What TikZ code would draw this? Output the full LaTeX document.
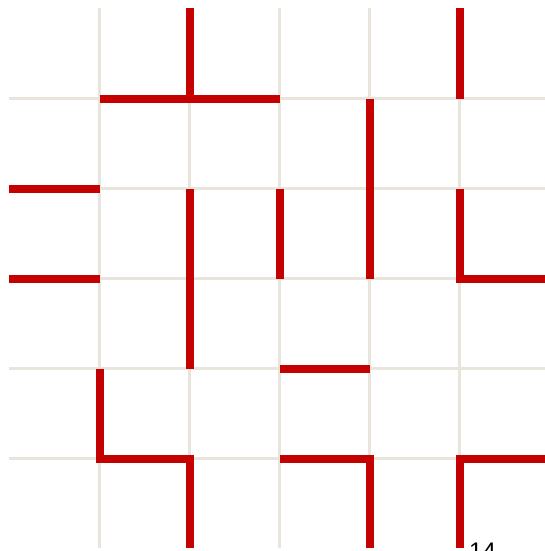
\documentclass[tikz,border=0pt]{standalone}
\usepackage{fontspec}
\setmainfont{Liberation Sans}
\begin{document}
\begin{tikzpicture}[x=1pt,y=-1pt,
  gridline/.style={draw={rgb,255:red,234;green,229;blue,220},line width=2.5pt},
  wall/.style={draw={rgb,255:red,196;green,0;blue,0},line width=8pt,line cap=butt,line join=miter}]
\clip (0,0) rectangle (545,551);
\fill[white] (0,0) rectangle (545,551);
% grid
\foreach \k in {99.5,189.5,279.5,369.5,459.5} {
  \draw[gridline] (\k,8) -- (\k,548);
}
\foreach \k in {98.5,188.5,278.5,368.5,458.5} {
  \draw[gridline] (9,\k) -- (550,\k);
}
% walls
\draw[wall] (189.5,8) -- (189.5,98.5);
\draw[wall] (99.5,98.5) -- (279.5,98.5);
\draw[wall] (459.5,8) -- (459.5,98.5);
\draw[wall] (369.5,98.5) -- (369.5,278.5);
\draw[wall] (9,188.5) -- (99.5,188.5);
\draw[wall] (189.5,188.5) -- (189.5,368.5);
\draw[wall] (279.5,188.5) -- (279.5,278.5);
\draw[wall] (459.5,188.5) -- (459.5,278.5) -- (550,278.5);
\draw[wall] (9,278.5) -- (99.5,278.5);
\draw[wall] (99.5,368.5) -- (99.5,458.5) -- (189.5,458.5) -- (189.5,548);
\draw[wall] (279.5,368.5) -- (369.5,368.5);
\draw[wall] (279.5,458.5) -- (369.5,458.5) -- (369.5,548);
\draw[wall] (459.5,548) -- (459.5,458.5) -- (550,458.5);
% label
\node[anchor=north west,inner sep=0pt,font=\fontsize{24}{28}\selectfont] (lbl) at (469,543) {14};
\end{tikzpicture}
\end{document}
